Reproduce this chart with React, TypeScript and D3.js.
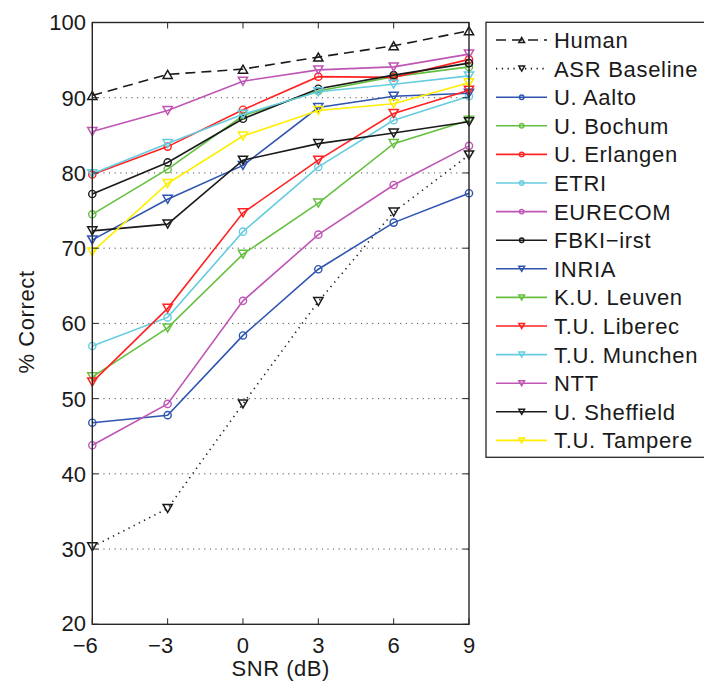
import React from "react";
import * as d3 from "d3";

// SNR values on the x axis
const snr = [-6, -3, 0, 3, 6, 9];
const xTicks = [-6, -3, 0, 3, 6, 9];
const yTicks = [20, 30, 40, 50, 60, 70, 80, 90, 100];

// % correct per system
const human = [90.3, 93.1, 93.8, 95.4, 96.9, 98.9];
const asrBaseline = [30.3, 35.4, 49.3, 62.9, 74.8, 82.4];
const aalto = [46.8, 47.8, 58.4, 67.2, 73.4, 77.3];
const bochum = [74.5, 80.5, 87.6, 90.9, 92.8, 94.1];
const erlangen = [79.8, 83.5, 88.4, 92.8, 92.7, 95.1];
const etri = [57.0, 60.8, 72.2, 80.8, 87.0, 90.2];
const eurecom = [43.8, 49.3, 63.0, 71.8, 78.4, 83.6];
const fbk = [77.2, 81.4, 87.2, 91.2, 93.0, 94.6];
const inria = [71.1, 76.5, 81.0, 88.7, 90.2, 90.6];
const leuven = [52.9, 59.4, 69.2, 76.0, 83.9, 87.0];
const liberec = [52.2, 62.0, 74.7, 81.7, 87.9, 91.0];
const munchen = [79.9, 83.9, 87.8, 90.8, 91.8, 92.9];
const ntt = [85.5, 88.3, 92.2, 93.7, 94.1, 95.8];
const sheffield = [72.3, 73.2, 81.7, 83.9, 85.3, 86.8];
const tampere = [69.5, 78.6, 84.9, 88.3, 89.2, 92.0];

const BLUE = "#2f55b0";
const GREEN = "#66c040";
const RED = "#ff2222";
const CYAN = "#66ccdf";
const MAGENTA = "#bf55b4";
const BLACK = "#1a1a1a";
const YELLOW = "#ffee00";

type Series = { name: string; values: number[]; color: string; marker: string; dash?: string };

const series: Series[] = [
  { name: "Human", values: human, color: BLACK, marker: "up", dash: "10,6" },
  { name: "ASR Baseline", values: asrBaseline, color: BLACK, marker: "down", dash: "1.3,4.5" },
  { name: "U. Aalto", values: aalto, color: BLUE, marker: "circle" },
  { name: "U. Bochum", values: bochum, color: GREEN, marker: "circle" },
  { name: "U. Erlangen", values: erlangen, color: RED, marker: "circle" },
  { name: "ETRI", values: etri, color: CYAN, marker: "circle" },
  { name: "EURECOM", values: eurecom, color: MAGENTA, marker: "circle" },
  { name: "FBKI\u2212irst", values: fbk, color: BLACK, marker: "circle" },
  { name: "INRIA", values: inria, color: BLUE, marker: "down" },
  { name: "K.U. Leuven", values: leuven, color: GREEN, marker: "down" },
  { name: "T.U. Liberec", values: liberec, color: RED, marker: "down" },
  { name: "T.U. Munchen", values: munchen, color: CYAN, marker: "down" },
  { name: "NTT", values: ntt, color: MAGENTA, marker: "down" },
  { name: "U. Sheffield", values: sheffield, color: BLACK, marker: "down" },
  { name: "T.U. Tampere", values: tampere, color: YELLOW, marker: "down" },
];

const FONT = "'Liberation Sans', Arial, Helvetica, sans-serif";

function Marker({ kind, x, y, color, s }: { kind: string; x: number; y: number; color: string; s: number }) {
  if (kind === "circle") {
    return <circle cx={x} cy={y} r={3.6 * s} fill="none" stroke={color} strokeWidth={1.4} />;
  }
  const w = 4.6 * s, h = 4 * s;
  const pts =
    kind === "up"
      ? `${x},${y - h} ${x + w},${y + h} ${x - w},${y + h}`
      : `${x},${y + h} ${x + w},${y - h} ${x - w},${y - h}`;
  return <polygon points={pts} fill="none" stroke={color} strokeWidth={1.5} />;
}

export default function App() {
  const left = 92.3, right = 469, top = 22.5, bottom = 624.3;
  const x = d3.scaleLinear().domain([-6, 9]).range([left, right]);
  const y = d3.scaleLinear().domain([20, 100]).range([bottom, top]);
  const line = d3
    .line<number>()
    .x((_, i) => x(snr[i]))
    .y((d) => y(d));

  // legend placement
  const lgX = 486, lgY = 22.3, lgW = 220, lgH = 435;
  const rowY = (i: number) => 40 + i * 28.6;

  return (
    <svg width={704} height={682} style={{ position: "absolute", left: 0, top: 0, background: "#fff" }}>
      <rect x={0} y={0} width={704} height={682} fill="#fff" />
      {/* dotted horizontal grid */}
      {yTicks
        .filter((t) => t > 20 && t < 100)
        .map((t) => (
          <line key={"g" + t} x1={left} x2={right} y1={y(t)} y2={y(t)} stroke="#333" strokeWidth={1} strokeDasharray="1,4.6" />
        ))}
      {/* series */}
      {series.map((s) => (
        <g key={s.name}>
          <path d={line(s.values) || ""} fill="none" stroke={s.color} strokeWidth={1.6} strokeDasharray={s.dash} />
          {s.values.map((v, i) => (
            <Marker key={i} kind={s.marker} x={x(snr[i])} y={y(v)} color={s.color} s={1} />
          ))}
        </g>
      ))}
      {/* axes box */}
      <rect x={left} y={top} width={right - left} height={bottom - top} fill="none" stroke="#262626" strokeWidth={1.4} />
      {xTicks.map((t) => (
        <g key={"x" + t}>
          <line x1={x(t)} x2={x(t)} y1={bottom} y2={bottom - 6} stroke="#262626" strokeWidth={1} />
          <line x1={x(t)} x2={x(t)} y1={top} y2={top + 6} stroke="#262626" strokeWidth={1} />
          <text x={x(t) - (t < 0 ? 7 : 0)} y={653} textAnchor="middle" fontFamily={FONT} fontSize={22} fill="#1a1a1a">
            {t < 0 ? "\u2212" + Math.abs(t) : t}
          </text>
        </g>
      ))}
      {yTicks.map((t) => (
        <g key={"y" + t}>
          <line x1={left} x2={left + 6} y1={y(t)} y2={y(t)} stroke="#262626" strokeWidth={1} />
          <line x1={right} x2={right - 6} y1={y(t)} y2={y(t)} stroke="#262626" strokeWidth={1} />
          <text x={86} y={y(t) - (t === 20 ? 1 : 0)} dy="0.36em" textAnchor="end" fontFamily={FONT} fontSize={22} fill="#1a1a1a">
            {t}
          </text>
        </g>
      ))}
      <text x={(left + right) / 2} y={676} textAnchor="middle" fontFamily={FONT} fontSize={22} letterSpacing={0.5} fill="#1a1a1a">
        SNR (dB)
      </text>
      <text
        transform={`translate(34,${322}) rotate(-90)`}
        textAnchor="middle"
        fontFamily={FONT}
        fontSize={22}
        letterSpacing={0.6}
        fill="#1a1a1a"
      >
        % Correct
      </text>
      {/* legend */}
      <rect x={lgX} y={lgY} width={lgW} height={lgH} fill="#fff" stroke="#262626" strokeWidth={1.3} />
      {series.map((s, i) => (
        <g key={"l" + s.name}>
          <line x1={496} x2={547} y1={rowY(i)} y2={rowY(i)} stroke={s.color} strokeWidth={1.6} strokeDasharray={s.dash} />
          <Marker kind={s.marker} x={521.7} y={rowY(i)} color={s.color} s={0.62} />
          <text x={554} y={rowY(i)} dy="0.36em" fontFamily={FONT} fontSize={22} letterSpacing={0.7} fill="#1a1a1a">
            {s.name}
          </text>
        </g>
      ))}
    </svg>
  );
}
